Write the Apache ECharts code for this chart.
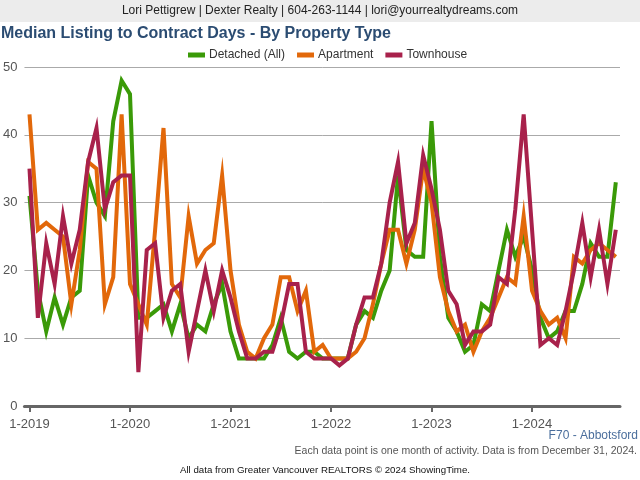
<!DOCTYPE html>
<html>
<head>
<meta charset="utf-8">
<script src="https://cdn.jsdelivr.net/npm/echarts@6/dist/echarts.min.js"></script>
<style>
  html, body { margin: 0; padding: 0; background: #fff; }
  #chart { width: 640px; height: 480px; }
</style>
</head>
<body>
<div id="chart"></div>
<script>
(() => {
  // monthly values, Jan 2019 .. Nov 2024
  const START_YEAR = 2019;
  const detached = [
    31, 17, 11, 16, 12, 16, 17, 34, 30, 28, 42, 48,
    46, 13, 13, 14, 15, 11, 15, 10, 12, 11, 15, 18,
    11, 7, 7, 7, 7, 9, 13, 8, 7, 8, 8, 7,
    7, 7, 7, 12, 14, 13, 17, 20, 34, 23, 22, 22,
    42, 22, 13, 11, 8, 9, 15, 14, 20, 26, 22, 25,
    20, 13, 10, 11, 14, 14, 18, 24, 22, 22, 33
  ];
  const apartment = [
    43, 26, 27, 26, 25, 15, 23, 36, 35, 15, 19, 43,
    18, 15, 12, 26, 41, 18, 16, 28, 21, 23, 24, 34,
    20, 12, 8, 7, 10, 12, 19, 19, 14, 17, 8, 9,
    7, 7, 7, 8, 10, 15, 21, 26, 26, 21, 26, 35,
    30, 19, 14, 11, 12, 8, 11, 13, 16, 19, 18, 28,
    17, 14, 12, 13, 10, 22, 21, 23, 24, 23, 22
  ];
  const townhouse = [
    35, 13, 24, 18, 28, 21, 26, 36, 41, 29, 33, 34,
    34, 5, 23, 24, 13, 17, 18, 8, 14, 20, 14, 20,
    16, 11, 7, 7, 8, 8, 12, 18, 18, 8, 7, 7,
    7, 6, 7, 12, 16, 16, 21, 30, 36, 24, 27, 37,
    32, 26, 17, 15, 9, 11, 11, 12, 19, 18, 29, 43,
    26, 9, 10, 9, 14, 20, 27, 19, 26, 18, 26
  ];
  const yearTicks = [0, 12, 24, 36, 48, 60];

  const font = 'Liberation Sans, Arial, sans-serif';
  const toPairs = arr => arr.map((v, i) => [i, v]);

  function lineSeries(name, data, color) {
    return {
      name: name,
      type: 'line',
      data: toPairs(data),
      showSymbol: false,
      symbol: 'none',
      lineStyle: { width: 4, color: color, join: 'miter' },
      itemStyle: { color: color },
      animation: false
    };
  }

  var option = {
    backgroundColor: '#fff',
    animation: false,
    textStyle: { fontFamily: font },
    graphic: [
      { type: 'rect', left: 0, top: 0, shape: { width: 640, height: 22 }, style: { fill: '#ececec' } },
      {
        type: 'text', left: 'center', top: 5,
        style: { text: 'Lori Pettigrew | Dexter Realty | 604-263-1144 | lori@yourrealtydreams.com', fill: '#222', font: '12px ' + font }
      },
      {
        type: 'text', right: 2, top: 430,
        style: { text: 'F70 - Abbotsford', fill: '#4a6e9c', font: '12px ' + font }
      },
      {
        type: 'text', right: 3, top: 446,
        style: { text: 'Each data point is one month of activity. Data is from December 31, 2024.', fill: '#555', font: '10.5px ' + font }
      },
      {
        type: 'text', left: 180, top: 465,
        style: { text: 'All data from Greater Vancouver REALTORS \u00a9 2024 ShowingTime.', fill: '#111', font: '9.7px ' + font }
      }
    ],
    title: {
      text: 'Median Listing to Contract Days - By Property Type',
      left: 1,
      top: 26,
      padding: 0,
      textStyle: { fontSize: 16, fontWeight: 'bold', color: '#2b4c72', fontFamily: font }
    },
    legend: {
      top: 44,
      left: 183,
      itemWidth: 17,
      itemHeight: 5,
      itemGap: 12,
      icon: 'rect',
      textStyle: { fontSize: 12, color: '#333', fontFamily: font, padding: [0, 0, 0, -1] },
      data: ['Detached (All)', 'Apartment', 'Townhouse']
    },
    grid: { left: 24, right: 20, top: 67, bottom: 74 },
    xAxis: {
      type: 'value',
      min: -0.6,
      max: 70.5,
      splitLine: { show: false },
      axisLine: { show: true, onZero: false, lineStyle: { color: '#666', width: 3 } },
      axisTick: { show: true, customValues: yearTicks, length: 6, lineStyle: { color: '#666', width: 2 } },
      axisLabel: {
        customValues: yearTicks,
        formatter: v => '1-' + (START_YEAR + Math.round(v / 12)),
        color: '#555', fontSize: 13, margin: 12, fontFamily: font
      }
    },
    yAxis: {
      type: 'value',
      min: 0,
      max: 50,
      interval: 10,
      axisLine: { show: false },
      axisTick: { show: false },
      axisLabel: { color: '#555', fontSize: 13, margin: 7, fontFamily: font },
      splitLine: { lineStyle: { color: '#aaa', width: 1 } }
    },
    series: [
      lineSeries('Detached (All)', detached, '#3a9a08'),
      lineSeries('Apartment', apartment, '#e2680a'),
      lineSeries('Townhouse', townhouse, '#a8214b')
    ]
  };

  var myChart = echarts.init(document.getElementById('chart'), null, { renderer: 'canvas' });
  myChart.setOption(option);
})();
</script>
</body>
</html>
